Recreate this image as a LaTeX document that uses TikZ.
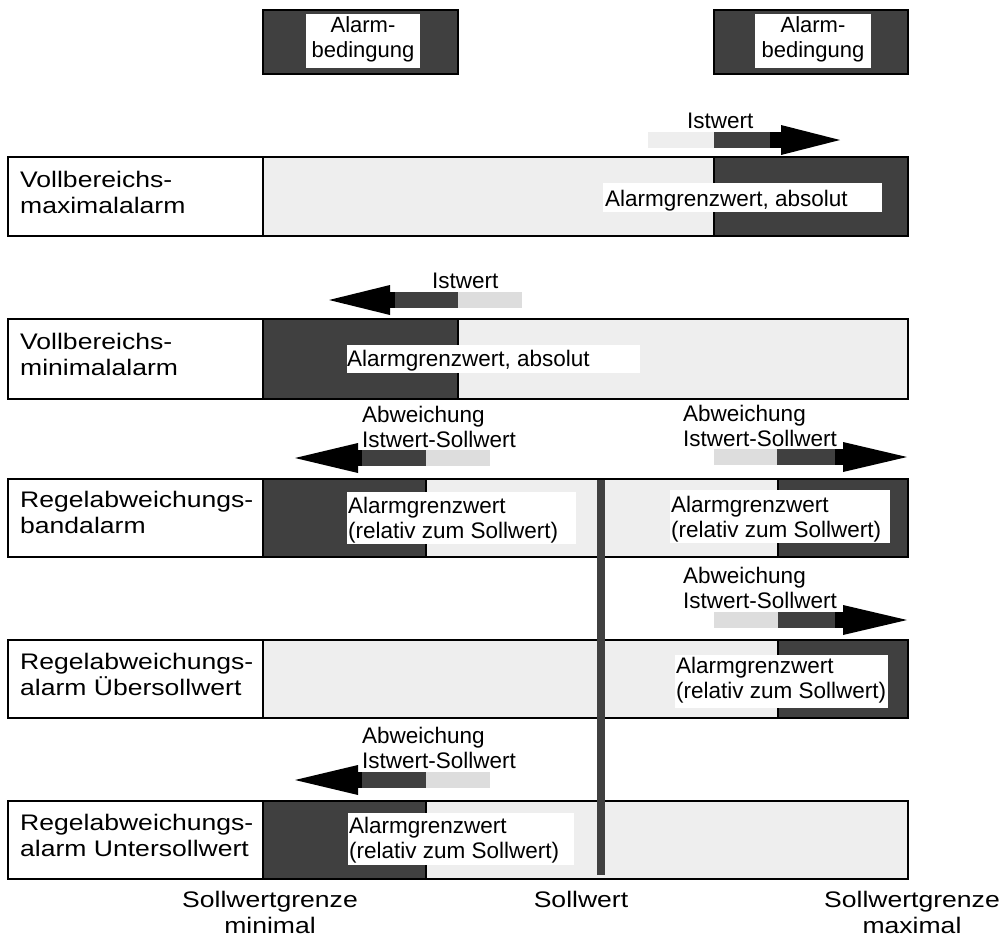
\documentclass[tikz,border=0pt]{standalone}
\usepackage{fontspec}
\setmainfont{Liberation Sans}
\newfontfamily\widesans[FakeStretch=1.18]{Liberation Sans}
\definecolor{dk}{HTML}{404040}
\definecolor{lt}{HTML}{EEEEEE}
\definecolor{ltb}{HTML}{DDDDDD}
% #1 y, #2 light start, #3 dark start, #4 black start, #5 head base, #6 tip, #7 light colour
\newcommand\valarrow[7]{%
  \fill[#7] (#2,#1-8) rectangle (#3,#1+8);
  \fill[dk] (#3,#1-8) rectangle (#4,#1+8);
  \fill[black] (#4,#1-8) rectangle (#5,#1+8);
  \fill[black] (#5,#1-15) -- (#6,#1) -- (#5,#1+15) -- cycle;}
\begin{document}
\begin{tikzpicture}[x=1pt,y=-1pt,
  outl/.style={draw=black,line width=2pt},
  txt/.style={anchor=base west,inner sep=0pt,align=left,font=\fontsize{22.5}{25}\selectfont},
  rowtxt/.style={anchor=base west,inner sep=0pt,align=left,font=\widesans\fontsize{22.5}{26}\selectfont},
  ctxt/.style={anchor=base,inner sep=0pt,align=center,font=\fontsize{22}{25}\selectfont},
  btxt/.style={anchor=base,inner sep=0pt,align=center,font=\widesans\fontsize{22.5}{26}\selectfont}]
\useasboundingbox (0,0) rectangle (1005,940);

% legend boxes
\filldraw[outl,fill=dk] (263,10) rectangle (458,74);
\fill[white] (306,14) rectangle (420,68);
\node[ctxt] (legL) at (363,57) {Alarm-\\bedingung};
\filldraw[outl,fill=dk] (714,10) rectangle (908,74);
\fill[white] (755,14) rectangle (871,68);
\node[ctxt] (legR) at (813,57) {Alarm-\\bedingung};

% Row 1
\valarrow{140}{648}{714}{770}{781}{840}{lt}
\node[txt] (ist1) at (687,128) {Istwert};
\draw[outl] (8,157) rectangle (263,236);
\filldraw[outl,fill=lt] (263,157) rectangle (714,236);
\filldraw[outl,fill=dk] (714,157) rectangle (908,236);
\node[rowtxt] (lab1) at (20,213) {Vollbereichs-\\maximalalarm};
\fill[white] (603,183) rectangle (882,212);
\node[txt] (gr1) at (605,206) {Alarmgrenzwert, absolut};

% Row 2
\valarrow{300}{522}{458}{395}{390}{329}{ltb}
\node[txt] (ist2) at (432,288) {Istwert};
\draw[outl] (8,319) rectangle (263,399);
\filldraw[outl,fill=dk] (263,319) rectangle (458,399);
\filldraw[outl,fill=lt] (458,319) rectangle (908,399);
\node[rowtxt] (lab2) at (20,375) {Vollbereichs-\\minimalalarm};
\fill[white] (347,345) rectangle (640,373);
\node[txt] (gr2) at (347,366) {Alarmgrenzwert, absolut};

% Row 3
\valarrow{458}{490}{426}{362}{358}{295}{ltb}
\valarrow{457}{714}{777}{835}{843}{907}{ltb}
\node[txt] (ab3l) at (362,447) {Abweichung\\Istwert-Sollwert};
\node[txt] (ab3r) at (683,446) {Abweichung\\Istwert-Sollwert};
\draw[outl] (8,479) rectangle (263,557);
\filldraw[outl,fill=dk] (263,479) rectangle (426,557);
\filldraw[outl,fill=lt] (426,479) rectangle (778,557);
\filldraw[outl,fill=dk] (778,479) rectangle (908,557);
\node[rowtxt] (lab3) at (20,533) {Regelabweichungs-\\bandalarm};
\fill[white] (347,492) rectangle (576,544);
\node[txt] (gr3l) at (348,538) {Alarmgrenzwert\\(relativ zum Sollwert)};
\fill[white] (670,490) rectangle (890,543);
\node[txt] (gr3r) at (671,537) {Alarmgrenzwert\\(relativ zum Sollwert)};

% Row 4
\valarrow{620}{714}{778}{835}{843}{907}{ltb}
\node[txt] (ab4) at (683,608) {Abweichung\\Istwert-Sollwert};
\draw[outl] (8,640) rectangle (263,718);
\filldraw[outl,fill=lt] (263,640) rectangle (778,718);
\filldraw[outl,fill=dk] (778,640) rectangle (908,718);
\node[rowtxt] (lab4) at (20,695) {Regelabweichungs-\\alarm Übersollwert};
\fill[white] (675,655) rectangle (888,708);
\node[txt] (gr4) at (676,698) {Alarmgrenzwert\\(relativ zum Sollwert)};

% Row 5
\valarrow{780}{490}{426}{362}{358}{295}{ltb}
\node[txt] (ab5) at (362,768) {Abweichung\\Istwert-Sollwert};
\draw[outl] (8,801) rectangle (263,879);
\filldraw[outl,fill=dk] (263,801) rectangle (426,879);
\filldraw[outl,fill=lt] (426,801) rectangle (908,879);
\node[rowtxt] (lab5) at (20,856) {Regelabweichungs-\\alarm Untersollwert};
\fill[white] (348,813) rectangle (574,865);
\node[txt] (gr5) at (349,858) {Alarmgrenzwert\\(relativ zum Sollwert)};

% Sollwert line
\coordinate (sT) at (601,480);
\coordinate (sB) at (601,875);
\draw[dk,line width=8pt] (sT) -- (sB);

% bottom labels
\node[btxt] (bl) at (270,933) {Sollwertgrenze\\minimal};
\node[btxt] (bm) at (581,907) {Sollwert};
\node[btxt] (br) at (912,933) {Sollwertgrenze\\maximal};
\end{tikzpicture}
\end{document}
